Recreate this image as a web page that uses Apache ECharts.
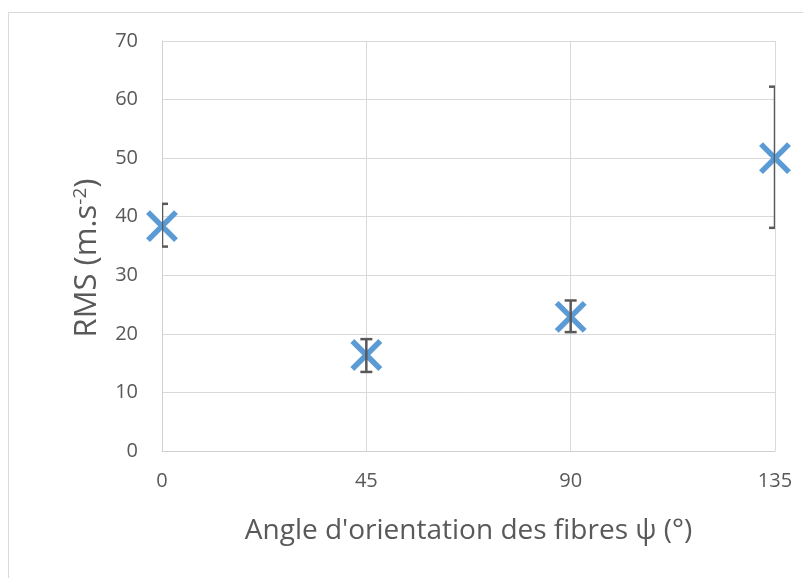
<!DOCTYPE html>
<html>
<head>
<meta charset="utf-8">
<script src="https://cdn.jsdelivr.net/npm/echarts@6/dist/echarts.min.js"></script>
<style>
html,body{margin:0;padding:0;background:#fff;}
#c{width:803px;height:578px;}
</style>
</head>
<body>
<div id="c"></div>
<script>
// Data
const angles = [0, 45, 90, 135];
const rmsValues = [38.4, 16.4, 22.9, 50.0];
const errLow = [34.9, 13.5, 20.3, 38.1];
const errHigh = [42.2, 19.1, 25.7, 62.2];
const yTicks = [0, 10, 20, 30, 40, 50, 60, 70];
const xTicks = [0, 45, 90, 135];

const FONT = 'Open Sans';
const chart = echarts.init(document.getElementById('c'), null, {renderer: 'canvas'});

const pointData = angles.map((a, i) => [a, rmsValues[i]]);
const errData = angles.map((a, i) => [a, errLow[i], errHigh[i]]);

const option = {
  backgroundColor: '#ffffff',
  animation: false,
  graphic: [{
    type: 'rect',
    shape: {x: 8.5, y: 12.5, width: 900, height: 900},
    style: {fill: 'none', stroke: '#D9D9D9', lineWidth: 1},
    silent: true,
    z: -10
  }],
  grid: {left: 162, right: 28, top: 41, bottom: 127, containLabel: false},
  xAxis: {
    type: 'value',
    min: xTicks[0], max: xTicks[xTicks.length - 1], interval: 45,
    name: "Angle d'orientation des fibres \u03C8 (\u00B0)",
    nameLocation: 'middle',
    nameGap: 66,
    nameTextStyle: {fontFamily: FONT, fontSize: 28, color: '#595959'},
    axisLine: {show: true, lineStyle: {color: '#D0D0D0', width: 1}},
    axisTick: {show: false},
    axisLabel: {fontFamily: FONT, fontSize: 20, color: '#595959', margin: 20},
    splitLine: {show: true, lineStyle: {color: '#D9D9D9', width: 1}}
  },
  yAxis: {
    type: 'value',
    min: yTicks[0], max: yTicks[yTicks.length - 1], interval: 10,
    name: 'RMS (m.s{sup|-2})',
    nameLocation: 'middle',
    nameGap: 58,
    nameRotate: 90,
    nameTextStyle: {
      fontFamily: FONT, fontSize: 31, color: '#595959',
      padding: [0, 24, 0, 0],
      rich: {sup: {fontFamily: FONT, fontSize: 19, color: '#595959', verticalAlign: 'top', padding: [0, 0, 14, 0]}}
    },
    axisLine: {show: true, lineStyle: {color: '#D0D0D0', width: 1}},
    axisTick: {show: false},
    axisLabel: {fontFamily: FONT, fontSize: 20, color: '#595959', margin: 24},
    splitLine: {show: true, lineStyle: {color: '#D9D9D9', width: 1}}
  },
  series: [
    {
      type: 'custom',
      name: 'markers',
      clip: false,
      z: 2,
      data: pointData,
      renderItem: function (params, api) {
        const p = api.coord([api.value(0), api.value(1)]);
        const h = 14;
        const st = {stroke: '#5B9BD5', lineWidth: 5.5, lineCap: 'butt'};
        return {
          type: 'group',
          children: [
            {type: 'line', shape: {x1: p[0] - h, y1: p[1] - h, x2: p[0] + h, y2: p[1] + h}, style: st},
            {type: 'line', shape: {x1: p[0] - h, y1: p[1] + h, x2: p[0] + h, y2: p[1] - h}, style: st}
          ]
        };
      }
    },
    {
      type: 'custom',
      name: 'error',
      clip: true,
      z: 3,
      data: errData,
      renderItem: function (params, api) {
        const lo = api.coord([api.value(0), api.value(1)]);
        const hi = api.coord([api.value(0), api.value(2)]);
        const cw = 6;
        const st = {stroke: '#595959', lineWidth: 2.5};
        return {
          type: 'group',
          children: [
            {type: 'line', shape: {x1: lo[0], y1: lo[1], x2: hi[0], y2: hi[1]}, style: st},
            {type: 'line', shape: {x1: lo[0] - cw, y1: lo[1], x2: lo[0] + cw, y2: lo[1]}, style: st},
            {type: 'line', shape: {x1: hi[0] - cw, y1: hi[1], x2: hi[0] + cw, y2: hi[1]}, style: st}
          ]
        };
      }
    }
  ]
};
chart.setOption(option);
</script>
</body>
</html>
